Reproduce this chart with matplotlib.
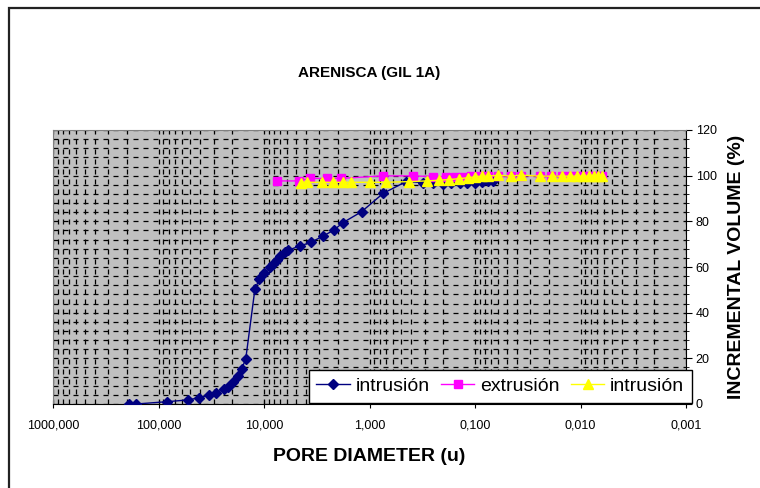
import matplotlib
matplotlib.use("Agg")
import matplotlib.pyplot as plt
from matplotlib.ticker import FixedLocator, FuncFormatter, MultipleLocator, LogLocator, NullFormatter
from matplotlib.patches import Rectangle

plt.rcParams['font.family'] = ['Liberation Sans', 'DejaVu Sans']

# --- data ---
intr1_d = [189, 163, 83.6, 52, 41, 33, 28.7, 24, 22, 19.5, 17.7, 16.3, 14.9, 12.2, 11.1, 10.0,
           8.8, 8.2, 7.6, 7.05, 6.3, 5.9, 4.56, 3.6, 2.74, 2.17, 1.79, 1.19, 0.74, 0.45,
           0.31, 0.25, 0.20, 0.17, 0.14, 0.12, 0.10, 0.085, 0.075, 0.068]
intr1_v = [0, 0, 1.0, 1.8, 2.8, 3.8, 5.0, 6.4, 7.3, 9.8, 12.4, 15.3, 19.7, 50.2, 54.6, 57.2,
           59.9, 61.3, 63.0, 64.8, 66.7, 67.4, 69.2, 70.8, 73.6, 76.2, 79.4, 84.2, 92.3, 97.4,
           97.0, 96.6, 96.5, 96.6, 96.7, 96.8, 97.0, 97.2, 97.5, 97.8]

extr_d = [7.5, 4.7, 3.66, 2.51, 1.87, 0.75, 0.385, 0.25, 0.19, 0.155, 0.129, 0.108, 0.09,
          0.075, 0.06, 0.046, 0.037, 0.024, 0.019, 0.015, 0.0126, 0.0107, 0.0094, 0.0083,
          0.0075, 0.0068, 0.0062]
extr_v = [97.7, 97.7, 98.8, 98.8, 98.8, 99.9, 99.9, 99.6, 99.6, 99.6, 99.6, 99.7, 99.7,
          99.8, 99.8, 99.9, 99.9, 100.0, 100.0, 100.0, 100.0, 100.0, 100.0, 100.0,
          100.0, 100.0, 100.0]

intr2_d = [4.5, 3.88, 2.84, 2.2, 1.8, 1.5, 1.0, 0.70, 0.42, 0.288, 0.218, 0.175, 0.141,
           0.116, 0.1, 0.0865, 0.0748, 0.060, 0.046, 0.0369, 0.0242, 0.0188, 0.0151,
           0.0126, 0.0107, 0.0094, 0.0083, 0.0075, 0.0068, 0.0062]
intr2_v = [97.0, 97.1, 97.1, 97.1, 97.1, 97.1, 97.1, 97.1, 97.4, 97.7, 98.0, 98.3, 98.7,
           99.1, 99.5, 99.8, 99.8, 100.2, 99.8, 100.2, 99.8, 99.8, 99.8, 99.8, 99.8,
           99.8, 99.8, 99.8, 99.8, 99.8]

x_ticks = [1000, 100, 10, 1, 0.1, 0.01, 0.001]
y_ticks = [0, 20, 40, 60, 80, 100, 120]

fig = plt.figure(figsize=(7.6, 4.88), dpi=100)
ax = fig.add_axes([53 / 760, 1 - 404 / 488, 633 / 760, 274 / 488])
ax.set_facecolor('#C0C0C0')

# outer chart border (cut at right/bottom like the picture)
fig.patches.append(Rectangle((9 / 760, -0.1), 1.2, 1 - 8 / 488 + 0.1, transform=fig.transFigure,
                             fill=False, edgecolor='#222222', lw=1.6))

ax.plot(intr1_d, intr1_v, color='#000080', marker='D', ms=5.5, lw=1, label='intrusión', zorder=3)
ax.plot(extr_d, extr_v, color='#FF00FF', marker='s', ms=5.5, lw=1, label='extrusión', zorder=4)
ax.plot(intr2_d, intr2_v, color='#FFFF00', marker='^', ms=6.5, lw=1, label='intrusión', zorder=5)

ax.set_xscale('log')
ax.set_xlim(1000, 0.001)
ax.set_ylim(0, 120)

ax.xaxis.set_major_locator(FixedLocator(x_ticks))
ax.xaxis.set_minor_locator(LogLocator(base=10, subs=range(2, 10), numticks=20))
ax.xaxis.set_minor_formatter(NullFormatter())
ax.xaxis.set_major_formatter(FuncFormatter(lambda v, p: f"{v:.3f}".replace('.', ',')))
ax.set_yticks(y_ticks)
ax.yaxis.set_minor_locator(MultipleLocator(4))

ax.yaxis.tick_right()
ax.yaxis.set_label_position('right')
ax.tick_params(axis='x', which='major', direction='inout', length=6, labelsize=9, pad=8)
ax.tick_params(axis='x', which='minor', length=0)
ax.tick_params(axis='y', which='major', direction='out', length=4, labelsize=9, pad=3)
ax.tick_params(axis='y', which='minor', direction='out', length=2)

ax.grid(True, which='both', ls=(0, (4, 4)), color='black', lw=0.9)
ax.set_axisbelow(True)

for s in ['left', 'top']:
    ax.spines[s].set_color('#808080')
for s in ['bottom', 'right']:
    ax.spines[s].set_color('black')

ax.set_title('ARENISCA (GIL 1A)', fontsize=11, fontweight='bold', pad=38)
ax.set_xlabel('PORE DIAMETER (u)', fontsize=14, fontweight='bold', labelpad=12)
ax.set_ylabel('INCREMENTAL VOLUME (%)', fontsize=14, fontweight='bold', labelpad=8)

leg = ax.legend(ncol=3, loc='lower right', bbox_to_anchor=(692 / 760, 1 - 403 / 488),
                bbox_transform=fig.transFigure, fontsize=14, frameon=True, fancybox=False,
                edgecolor='black', framealpha=1, borderpad=0.4, handlelength=1.7,
                handletextpad=0.3, columnspacing=0.6, borderaxespad=0)
leg.get_frame().set_linewidth(1)
leg.set_zorder(10)

plt.savefig('out.png', dpi=100)
